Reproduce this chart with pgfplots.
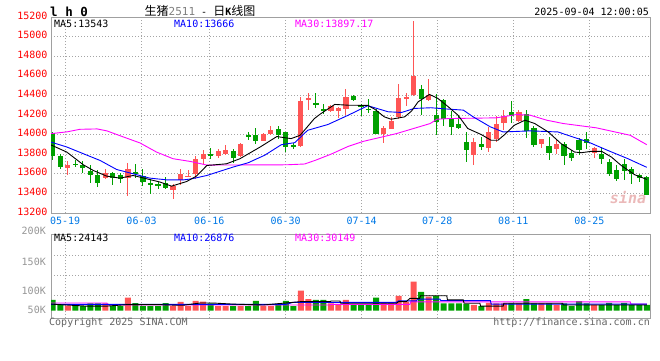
\documentclass[border=0pt]{standalone}
\usepackage{pgfplots}
\pgfplotsset{compat=1.18}
\usepackage{pgfplotstable}
\usepackage{fontspec}
\setmainfont{DejaVu Sans Mono}
\newfontfamily\cjk{Noto Sans CJK SC}
\definecolor{cred}{RGB}{255,85,85}
\definecolor{cgreen}{RGB}{0,160,0}
\definecolor{cmag}{RGB}{255,0,255}
\definecolor{cblue}{RGB}{0,0,255}
\definecolor{xblue}{RGB}{0,120,230}
\definecolor{framec}{RGB}{160,160,160}
\definecolor{gridc}{RGB}{165,165,165}
\definecolor{lblgray}{RGB}{150,150,150}
\definecolor{footc}{RGB}{100,100,100}

% rising days: i open high low close volume(K)
\pgfplotstableread{
i o h l c v
2 13658 13733 13590 13692 23
7 13562 13651 13549 13607 33
10 13562 13713 13378 13651 59
16 13432 13497 13343 13477 21
17 13538 13644 13484 13600 40
18 13573 13641 13566 13580 21
19 13600 13778 13545 13754 45
20 13747 13846 13696 13798 41
22 13778 13850 13757 13829 21
23 13798 13890 13788 13846 21
25 13778 13910 13770 13908 21
28 13939 14017 13932 14010 21
29 14010 14088 13993 14051 21
33 13881 14383 13878 14346 91
34 14353 14427 14247 14376 53
37 14237 14305 14230 14288 33
38 14237 14281 14173 14275 29
39 14258 14461 14197 14383 49
44 14003 14088 13915 14071 33
45 14061 14180 14058 14139 33
46 14180 14519 14163 14376 68
47 14359 14427 14292 14383 41
48 14400 15156 14395 14597 132
50 14349 14570 14342 14400 64
56 13792 13966 13690 13922 26
58 13860 14075 13819 14024 36
59 13956 14188 13922 14109 33
60 14119 14256 14051 14194 33
62 14140 14246 14133 14232 33
65 13905 13960 13864 13956 33
67 13857 13942 13806 13908 26
72 13816 13874 13765 13864 26
}\tabup

% falling days
\pgfplotstableread{
i o h l c v
0 14020 14025 13737 13778 49
1 13785 13800 13650 13665 30
3 13702 13740 13665 13696 21
4 13689 13726 13610 13655 21
5 13631 13692 13508 13583 33
6 13590 13641 13466 13508 33
8 13610 13617 13487 13562 21
9 13583 13610 13508 13549 21
11 13617 13702 13555 13596 35
12 13576 13651 13480 13514 21
13 13504 13549 13391 13498 21
14 13493 13521 13446 13487 21
15 13504 13566 13446 13460 35
21 13805 13863 13747 13778 33
24 13829 13856 13713 13761 21
26 14000 14027 13942 13976 21
27 13993 14071 13908 13939 45
30 14061 14088 13959 14000 30
31 14027 14030 13824 13871 45
32 13889 13915 13851 13882 21
35 14316 14427 14271 14309 49
36 14258 14312 14214 14251 49
40 14390 14407 14342 14349 26
41 14299 14315 14186 14292 26
42 14262 14366 14224 14255 26
43 14241 14264 14005 14010 59
49 14468 14502 14203 14366 86
51 14197 14417 13993 14129 67
52 14356 14366 14088 14163 33
53 14170 14246 13997 14075 33
54 14109 14188 14058 14072 33
55 13928 14024 13724 13847 30
57 13905 13980 13847 13877 21
61 14235 14338 14116 14188 33
63 14211 14246 13966 14041 53
64 14065 14092 13877 13898 33
66 13881 13973 13744 13812 33
68 13908 13925 13687 13779 33
69 13816 13840 13728 13765 21
70 13942 13966 13789 13840 44
71 13959 14027 13857 13918 33
73 13806 13874 13701 13748 26
74 13721 13755 13575 13599 36
75 13643 13694 13524 13551 26
76 13704 13755 13541 13626 36
77 13646 13670 13500 13602 26
78 13585 13602 13517 13558 26
79 13570 13575 13381 13388 26
}\tabdn

\pgfplotsset{
  kbase/.style={
    scale only axis, width=599pt, xmin=-0.23, xmax=79.43,
    scaled y ticks=false, scaled x ticks=false,
    axis line style={draw=framec, line width=0.8pt},
    xtick={1.64,11.81,20.82,30.98,41.08,51.14,61.25,71.36},
    xmajorgrids, ymajorgrids,
    major grid style={draw=gridc, line width=0.8pt, dash pattern=on 1pt off 2pt},
    tick style={draw=none},
  },
  wick/.style={color=#1, only marks, mark size=0pt, mark options={draw=none, fill=none},
    error bars/.cd, y dir=both, y explicit, error mark=none,
    error bar style={line width=1pt, draw=#1, solid}},
  body/.style={color=#1, only marks, mark size=0pt, mark options={draw=none, fill=none},
    error bars/.cd, y dir=both, y explicit, error mark=none,
    error bar style={line width=5.2pt, draw=#1, solid}},
}
\tikzset{lbl/.style={inner sep=0pt, font=\fontsize{10}{12}\selectfont}}

\begin{document}
\begin{tikzpicture}
\path[use as bounding box] (0pt,0pt) rectangle (660pt,360pt);

% ---------- price panel ----------
\begin{axis}[kbase,
  at={(51pt,147pt)}, anchor=south west, height=196pt,
  ymin=13200, ymax=15200,
  ytick={13200,13400,13600,13800,14000,14200,14400,14600,14800,15000,15200},
  yticklabels={13200,13400,13600,13800,14000,14200,14400,14600,14800,15000,15200},
  yticklabel style={text=red, xshift=0pt, yshift=1.5pt, font=\fontsize{10}{12}\selectfont},
  xticklabels={05-19,06-03,06-16,06-30,07-14,07-28,08-11,08-25},
  xticklabel style={text=xblue, yshift=-1pt, font=\fontsize{10}{12}\selectfont},
]
\addplot[wick=cred] table[x=i, y expr={(\thisrow{h}+\thisrow{l})/2}, y error expr={(\thisrow{h}-\thisrow{l})/2}] {\tabup};
\addplot[body=cred] table[x=i, y expr={(\thisrow{o}+\thisrow{c})/2}, y error expr={max(abs(\thisrow{c}-\thisrow{o})/2,5)}] {\tabup};
\addplot[wick=cgreen] table[x=i, y expr={(\thisrow{h}+\thisrow{l})/2}, y error expr={(\thisrow{h}-\thisrow{l})/2}] {\tabdn};
\addplot[body=cgreen] table[x=i, y expr={(\thisrow{o}+\thisrow{c})/2}, y error expr={max(abs(\thisrow{c}-\thisrow{o})/2,5)}] {\tabdn};

% MA30
\addplot[cmag, line width=0.9pt] coordinates {
(-0.2,14010) (1.9,14028) (3.6,14054) (5.9,14058) (7.2,14038) (9.4,13976) (11.6,13915)
(13.8,13822) (16.0,13754) (18.3,13726) (20.5,13689) (31.1,13692) (33.5,13700) (35.0,13740)
(37.0,13800) (39.3,13880) (41.3,13931) (45.7,14010) (50.2,14113) (51.1,14157) (52.8,14164)
(59.0,14171) (61.7,14205) (63.5,14198) (65.7,14147) (67.9,14113) (72.3,14069) (76.8,13993) (79,13897)};
% MA10
\addplot[cblue, line width=0.9pt] coordinates {
(-0.3,13925) (1.86,13874) (4.07,13805) (6.3,13736) (8.5,13644) (10.7,13600) (12.9,13556)
(15.2,13538) (17.4,13538) (18.5,13549) (20.5,13583) (24.0,13669) (26.0,13713) (28.2,13790)
(30.4,13897) (32.2,13918) (33.9,14044) (36.6,14103) (39.3,14198) (41.9,14295) (44.6,14233)
(46.4,14226) (48.1,14267) (50.3,14274) (52.6,14260) (54.6,14250) (55.9,14182) (58.2,14079)
(59.9,14027) (63.5,14038) (67.2,14027) (68.5,13993) (71.2,13925) (73.8,13839) (76.5,13754) (79,13666)};
% MA5
\addplot[black, line width=0.9pt] coordinates {
(-0.3,13897) (1.86,13822) (4.07,13692) (5.4,13634) (7.18,13576) (8.95,13556) (10.7,13583)
(12.5,13549) (14.3,13515) (15.8,13474) (17.8,13521) (19.1,13576) (20.5,13685) (23.1,13702)
(24.9,13754) (27.6,13874) (29.8,13980) (31.7,13959) (32.9,13993) (34.8,14164) (35.5,14205)
(37.5,14308) (39.3,14300) (41.9,14298) (42.8,14260) (44.1,14181) (45.0,14157) (46.8,14181)
(47.7,14239) (48.6,14335) (50.1,14410) (51.2,14370) (52.6,14284) (53.9,14198) (55.2,14062)
(57.0,14000) (58.3,13942) (59.2,13942) (60.1,14000) (61.4,14096) (62.8,14147) (64.1,14113)
(65.9,14027) (67.6,13908) (69.4,13822) (70.3,13815) (71.6,13829) (73.0,13829) (74.3,13771)
(75.6,13685) (77.4,13590) (79,13543)};
\end{axis}

% ---------- volume panel ----------
\begin{axis}[kbase,
  at={(51pt,41.7pt)}, anchor=south west, height=84pt,
  ymin=-34.5, ymax=347.3,
  ytick={71.4,162.3,253.2}, yticklabels={}, xticklabels={},
]
\addplot[ybar, bar width=6pt, bar shift=0pt, fill=cred, draw=none] table[x=i, y=v] {\tabup};
\addplot[ybar, bar width=6pt, bar shift=0pt, fill=cgreen, draw=none] table[x=i, y=v] {\tabdn};
\addplot[cmag, line width=0.9pt] coordinates {(-0.3,35) (7.2,35) (7.3,26) (36.9,26) (37,29) (47.5,29) (47.6,40) (76.8,40) (76.9,30) (79,30)};
\addplot[cblue, line width=0.9pt] coordinates {(-0.3,29) (31,29) (32,38) (45.7,38) (46,45) (48.4,45) (48.5,53) (51.5,53) (51.6,46) (58.2,46) (58.3,30) (79,30)};
\addplot[black, line width=0.9pt] coordinates {(-0.3,30) (4.5,21) (7.2,21) (10,28) (14,28) (16.5,25) (17.4,25) (19.6,35) (21.3,35) (24,30) (28,26) (32.9,41) (36.9,41) (37,44) (38.2,44) (38.3,34) (45.7,34) (46,41) (47,41) (47.5,56) (48.8,56) (48.9,68) (52.4,68) (52.5,49) (54.6,49) (54.7,34) (56.8,34) (56.9,21) (59.9,21) (60,34) (67.8,34) (67.9,26) (79,26)};
\end{axis}

% ---------- texts ----------
\node[lbl, anchor=west, font=\fontsize{12.5}{12}\selectfont\bfseries] at (50pt,348.5pt) {l h 0};
\node[lbl] at (200pt,349pt) {{\cjk\fontsize{12}{12}\selectfont 生猪}{\color{gray}\fontsize{11}{12}\selectfont 2511} - {\cjk\fontsize{12}{12}\selectfont 日}\textbf{K}{\cjk\fontsize{12}{12}\selectfont 线图}};
\node[lbl, anchor=east] at (649pt,348pt) {2025-09-04 12:00:05};

\node[lbl, anchor=west] at (54pt,336pt) {MA5:13543};
\node[lbl, anchor=west, text=cblue] at (174pt,336pt) {MA10:13666};
\node[lbl, anchor=west, text=cmag] at (295pt,336pt) {MA30:13897.17};

\node[lbl, anchor=west] at (54pt,121.7pt) {MA5:24143};
\node[lbl, anchor=west, text=cblue] at (174pt,121.7pt) {MA10:26876};
\node[lbl, anchor=west, text=cmag] at (295pt,121.7pt) {MA30:30149};

\node[lbl, anchor=east, text=lblgray] at (46pt,129pt) {200K};
\node[lbl, anchor=east, text=lblgray] at (46pt,98.3pt) {150K};
\node[lbl, anchor=east, text=lblgray] at (46pt,69.3pt) {100K};
\node[lbl, anchor=east, text=lblgray] at (46pt,50pt) {50K};

\node[lbl, anchor=west, text=footc] at (49pt,37pt) {Copyright 2025 SINA.COM};
\node[lbl, anchor=east, text=footc] at (650pt,37pt) {http://finance.sina.com.cn};

\node[inner sep=0pt, text={rgb,255:red,235;green,185;blue,185}, font=\fontsize{15}{15}\selectfont\bfseries\itshape] at (628pt,162pt) {sina};
\end{tikzpicture}
\end{document}
